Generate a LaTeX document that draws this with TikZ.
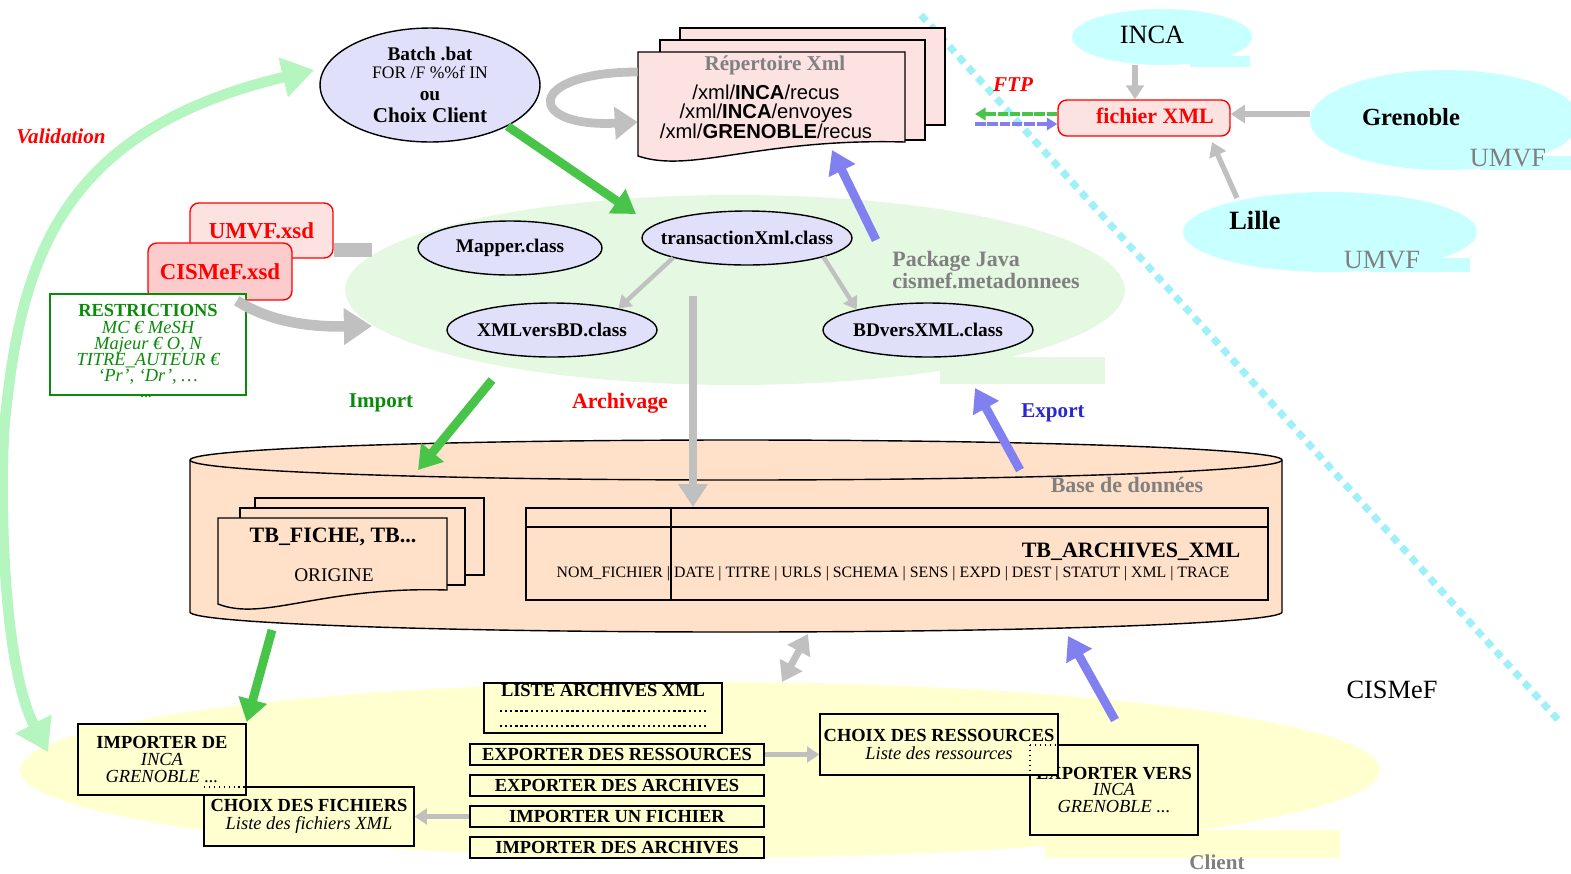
\documentclass[tikz,border=0pt]{standalone}
\usepackage{fontspec}
\setmainfont{Liberation Serif}
\newfontfamily\arialfont{Liberation Sans}
\usepackage{xcolor}
\usetikzlibrary{arrows.meta,calc,positioning,shapes}

\definecolor{lavande}{RGB}{224,224,250}
\definecolor{rosedoc}{RGB}{253,226,226}
\definecolor{rosexsd}{RGB}{252,204,204}
\definecolor{vertpale}{RGB}{228,248,226}
\definecolor{cyanpale}{RGB}{200,255,255}
\definecolor{peche}{RGB}{255,224,200}
\definecolor{jaunepale}{RGB}{255,255,208}
\definecolor{vertvalid}{RGB}{180,245,192}
\definecolor{vertfleche}{RGB}{72,196,72}
\definecolor{bleufleche}{RGB}{128,128,240}
\definecolor{grisfleche}{RGB}{192,192,192}
\definecolor{gristexte}{RGB}{128,128,128}
\definecolor{vertfonce}{RGB}{10,140,10}
\definecolor{bleutexte}{RGB}{40,40,210}
\definecolor{cyanligne}{RGB}{160,240,248}

\newcommand{\fsz}[2]{\fontsize{#1}{#2}\selectfont}

\begin{document}
\begin{tikzpicture}[x=0.02cm,y=-0.02cm]
\tikzstyle{cls}=[ellipse,draw,thick,fill=lavande,inner sep=0pt,minimum width=4.2cm,minimum height=1.08cm]
\tikzstyle{clsl}=[font=\bfseries\fsz{11}{13},inner sep=0pt]
\tikzstyle{zone}=[ellipse,inner sep=0pt]
\tikzstyle{xsd}=[rectangle,rounded corners=5pt,draw=red,thick,text=red,font=\bfseries\fsz{13}{15}]
\tikzstyle{bx}=[rectangle,draw,thick,fill=jaunepale,inner sep=0pt,align=center,font=\fsz{10.5}{9.4}]
\tikzstyle{fl}=[line width=5pt,-{Triangle[length=13pt,width=16pt]}]
\tikzstyle{petite}=[line width=2.5pt,grisfleche,-{Triangle[length=7pt,width=9pt]}]
\tikzstyle{txt}=[inner sep=0pt]
\def\docpath#1#2#3#4{(#1,#2) -- (#3,#2) -- (#3,#4) .. controls ($(#1,#4)!.45!(#3,#4)+(0,-4)$) and ($(#1,#4)!.2!(#3,#4)+(0,32)$) .. (#1,{#4+14}) -- cycle}

\useasboundingbox (0,0) rectangle (1571,873);

% separation CISMeF / partenaires
\draw[cyanligne,line width=4pt,dash pattern=on 4.5pt off 3.5pt] (921,15) -- (1560,722);

% zones
\node[zone,fill=cyanpale,minimum width=3.6cm,minimum height=1.12cm] (inca) at (1162,37) {};
\fill[cyanpale] (1190,56) rectangle (1250,67);
\node[zone,fill=cyanpale,minimum width=5.4cm,minimum height=2cm] (grenoble) at (1445,120) {};
\fill[cyanpale] (1480,156) rectangle (1571,170);
\node[zone,fill=cyanpale,minimum width=5.88cm,minimum height=1.6cm] (lille) at (1330,232) {};
\fill[cyanpale] (1370,258) rectangle (1470,272);
\node[zone,fill=vertpale,minimum width=15.6cm,minimum height=3.8cm] (pkg) at (735,290) {};
\fill[vertpale] (940,357) rectangle (1105,384);
\node[zone,fill=jaunepale,minimum width=27.2cm,minimum height=3.52cm] (client) at (700,770) {};
\fill[jaunepale] (1045,830) rectangle (1340,858);

% validation
\coordinate (valbas) at (48,752);
\coordinate (valhaut) at (314,70);
\draw[vertvalid,line width=6pt,{Triangle[length=18pt,width=22pt]}-{Triangle[length=18pt,width=22pt]}]
  (valbas) .. controls (0,660) and (0,470) .. (5,420) .. controls (21,260) and (60,130) .. (valhaut);

% batch et repertoire
\node[ellipse,draw,thick,fill=lavande,minimum width=4.4cm,minimum height=2.28cm,inner sep=0pt,align=center,font=\fsz{11}{10.5}]
  (batch) at (430,85) {\textbf{Batch .bat}\\{\fsz{10}{10.5}FOR /F \%\%f IN}\\[2pt]\textbf{ou}\\[2pt]{\bfseries\fsz{12}{12}Choix Client}};
\draw[thick,fill=rosedoc] (680,28) rectangle (945,125);
\draw[thick,fill=rosedoc] (660,40) rectangle (925,140);
\draw[thick,fill=rosedoc] \docpath{638}{52}{905}{142};
\node[minimum width=5.34cm,minimum height=1.8cm] (rep) at (771.5,97) {};
\node[txt,text=gristexte,font=\bfseries\fsz{12}{14}] (reptitre) at (775,65) {Répertoire Xml};
\node[txt,align=center,font=\arialfont\fsz{11.5}{10.5}] (repliste) at (766,112)
  {/xml/\textbf{INCA}/recus\\/xml/\textbf{INCA}/envoyes\\/xml/\textbf{GRENOBLE}/recus};

% partenaires
\node[rectangle,rounded corners=5pt,draw=red,thick,fill=rosedoc,minimum width=3.44cm,minimum height=0.72cm] (fichier) at (1144,118) {};
\node[txt,text=red,font=\bfseries\fsz{12.5}{14}] (fichiert) at (1155,116) {fichier XML};
\node[txt,font=\fsz{15}{17}] (incat) at (1152,35) {INCA};
\node[txt,font=\bfseries\fsz{14}{16}] (grenoblet) at (1411,117) {Grenoble};
\node[txt,text=gristexte,font=\fsz{15}{17}] (umvf1) at (1508,158) {UMVF};
\node[txt,font=\bfseries\fsz{15}{17}] (lillet) at (1255,220) {Lille};
\node[txt,text=gristexte,font=\fsz{15}{17}] (umvf2) at (1382,260) {UMVF};
\node[txt,text=red,font=\bfseries\itshape\fsz{12}{14}] (ftp) at (1013,85) {FTP};

% schemas
\node[xsd,fill=rosedoc,minimum width=2.86cm,minimum height=1.1cm] (umvf) at (261.5,230.5) {UMVF.xsd};
\node[xsd,fill=rosexsd,minimum width=2.88cm,minimum height=1.14cm] (cismef) at (220,271.5) {CISMeF.xsd};
\node[rectangle,draw=vertfonce,thick,fill=white,minimum width=3.92cm,minimum height=2.02cm,inner sep=0pt,
  align=center,text=vertfonce,font=\itshape\fsz{10.5}{9.2}] (restr) at (148,344.5)
  {\textbf{\upshape RESTRICTIONS}\\MC € MeSH\\Majeur € O, N\\TITRE\_AUTEUR €\\`Pr', `Dr', \dots};
\node[txt,text=vertfonce,font=\fsz{9}{10}] (restrs) at (146,397) {...};

% package java
\node[cls,minimum width=3.68cm,label={[clsl]center:Mapper.class}] (mapper) at (510,248) {};
\node[cls,label={[clsl]center:transactionXml.class}] (trans) at (747,238) {};
\node[cls,label={[clsl]center:XMLversBD.class}] (xmlbd) at (552,330) {};
\node[cls,label={[clsl]center:BDversXML.class}] (bdxml) at (928,330) {};
\node[txt,anchor=west,align=left,text=gristexte,font=\bfseries\fsz{12.5}{12}] (pkgt) at (892,270) {Package Java\\cismef.metadonnees};

% base de donnees
\draw[thick,fill=peche] (190,460) -- (190,612) arc[start angle=180,end angle=0,x radius=546,y radius=20]
  -- (1282,460) arc[start angle=0,end angle=-180,x radius=546,y radius=20] -- cycle;
\draw[thick] (190,460) arc[start angle=180,end angle=0,x radius=546,y radius=20];
\node[txt,text=gristexte,font=\bfseries\fsz{12.5}{14}] (dbt) at (1127,485) {Base de données};
\draw[thick,fill=peche] (255,498) rectangle (484,575);
\draw[thick,fill=peche] (240,508) rectangle (465,585);
\draw[thick,fill=peche] \docpath{218}{518}{447}{590};
\node[txt,font=\bfseries\fsz{12.5}{14}] (fiche) at (333,537) {TB\_FICHE, TB...};
\node[txt,font=\fsz{11}{13}] (origine) at (334,575) {ORIGINE};
\draw[thick] (526,508) rectangle (1268,600) (526,527) -- (1268,527) (671,508) -- (671,600);
\node[txt,font=\bfseries\fsz{12.5}{14}] (tbarch) at (1131,552) {TB\_ARCHIVES\_XML};
\node[txt,font=\fsz{9}{11}] (cols) at (893,574) {NOM\_FICHIER | DATE | TITRE | URLS | SCHEMA | SENS | EXPD | DEST | STATUT | XML | TRACE};

% client
\node[bx,minimum width=4.2cm,minimum height=1.18cm] (choixf) at (309,816.5) {\textbf{CHOIX DES FICHIERS}\\[1pt]\textit{Liste des fichiers XML}};
\node[bx,minimum width=3.36cm,minimum height=1.42cm] (impde) at (162,759.5) {\textbf{IMPORTER DE}\\\textit{INCA}\\\textit{GRENOBLE ...}};
\draw[dotted,thick] (204,787) -- (246,787);
\node[bx,minimum width=4.76cm,minimum height=1cm] (liste) at (603,708) {};
\node[txt,font=\bfseries\fsz{10.5}{12}] (listet) at (603,691) {LISTE ARCHIVES XML};
\draw[line width=1.3pt,dash pattern=on 1.3pt off 1.6pt] (500,711) -- (706,711) (500,726) -- (706,726);
\node[bx,font=\bfseries\fsz{10.5}{12},minimum width=5.88cm,minimum height=0.42cm] (expres) at (617,754.5) {EXPORTER DES RESSOURCES};
\node[bx,font=\bfseries\fsz{10.5}{12},minimum width=5.88cm,minimum height=0.42cm] (exparch) at (617,785.5) {EXPORTER DES ARCHIVES};
\node[bx,font=\bfseries\fsz{10.5}{12},minimum width=5.88cm,minimum height=0.42cm] (impfich) at (617,816.5) {IMPORTER UN FICHIER};
\node[bx,font=\bfseries\fsz{10.5}{12},minimum width=5.88cm,minimum height=0.42cm] (imparch) at (617,847.5) {IMPORTER DES ARCHIVES};
\node[bx,minimum width=3.36cm,minimum height=1.8cm] (expvers) at (1114,790) {\textbf{EXPORTER VERS}\\\textit{INCA}\\\textit{GRENOBLE ...}};
\node[bx,minimum width=4.76cm,minimum height=1.22cm] (choixr) at (939,744.5) {\textbf{CHOIX DES RESSOURCES}\\[1pt]\textit{Liste des ressources}};
\draw[dotted,thick] (1030,745) -- (1058,745) (1030,745) -- (1030,775);
\node[txt,font=\fsz{15}{17}] (cismeft) at (1392,690) {CISMeF};
\node[txt,text=gristexte,font=\bfseries\fsz{12}{14}] (clientt) at (1217,862) {Client};

% fleches
\coordinate (transno) at (636,214);
\draw[fl,vertfleche] (batch.-28) -- (transno);
\draw[grisfleche,line width=5pt,-{Triangle[length=13pt,width=18pt]}]
  ([yshift=0.5cm]rep.west) .. controls (525,72) and (525,128) .. ([yshift=-0.5cm]rep.west);
\coordinate (repbas) at (832,150);
\coordinate (pkghaut) at (876,240);
\draw[fl,bleufleche] (pkghaut) -- (repbas);
\draw[petite] (trans.195) -- (xmlbd.18);
\draw[petite] (trans.-14) -- (bdxml.164);
\coordinate (umvfbout) at (372,250);
\draw[grisfleche,line width=8pt] (umvf.east |- umvfbout) -- (umvfbout);
\coordinate (pkggauche) at (372,326);
\draw[grisfleche,line width=6pt,-{Triangle[length=16pt,width=20pt]}] (cismef.-60) .. controls (270,322) and (310,327) .. (pkggauche);
\draw[grisfleche,line width=3pt,-{Triangle[length=8pt,width=10pt]}] (inca.south -| 1135,0) -- (fichier.north -| 1135,0);
\draw[grisfleche,line width=3pt,-{Triangle[length=8pt,width=10pt]}] (grenoble.west |- 0,114) -- (fichier.east |- 0,114);
\coordinate (lillehaut) at (1237,198);
\coordinate (fichierbas) at (1212,142);
\draw[grisfleche,line width=3pt,-{Triangle[length=8pt,width=10pt]}] (lillehaut) -- (fichierbas);
\coordinate (ftpg) at (975,114);
\coordinate (ftpb) at (975,124);
\draw[vertfleche,line width=2pt,dash pattern=on 6pt off 1pt,-{Triangle[length=6pt,width=7pt]}] (fichier.west |- ftpg) -- (ftpg);
\draw[bleufleche,line width=2pt,dash pattern=on 6pt off 1pt,-{Triangle[length=6pt,width=7pt]}] (ftpb) -- (fichier.west |- ftpb);

\coordinate (impA) at (492,380);
\coordinate (impB) at (418,470);
\draw[fl,vertfleche] (impA) -- (impB);
\coordinate (archA) at (693,296);
\coordinate (archB) at (693,507);
\draw[fl,grisfleche] (archA) -- (archB);
\coordinate (expA) at (1020,470);
\coordinate (expB) at (975,388);
\draw[fl,bleufleche] (expA) -- (expB);
\coordinate (dbimp) at (272,630);
\draw[fl,vertfleche] (dbimp) -- (impde.north east |- 0,722);
\coordinate (dbexp) at (1068,636);
\coordinate (cliexp) at (1115,720);
\draw[fl,bleufleche] (cliexp) -- (dbexp);
\coordinate (dbarch) at (808,634);
\coordinate (cliarch) at (782,682);
\draw[grisfleche,line width=4pt,{Triangle[length=11pt,width=14pt]}-{Triangle[length=11pt,width=14pt]}] (dbarch) -- (cliarch);
\draw[petite] (impfich.west) -- (choixf.east |- impfich.west);
\draw[petite] (expres.east) -- (choixr.west |- expres.east);

% etiquettes
\node[txt,text=red,font=\bfseries\itshape\fsz{12}{14}] (valt) at (61,136) {Validation};
\node[txt,text=vertfonce,font=\bfseries\fsz{12}{14}] (importt) at (381,403) {Import};
\node[txt,text=red,font=\bfseries\fsz{12.5}{14}] (archt) at (620,403) {Archivage};
\node[txt,text=bleutexte,font=\bfseries\fsz{12}{14}] (exportt) at (1053,413) {Export};
\end{tikzpicture}
\end{document}
